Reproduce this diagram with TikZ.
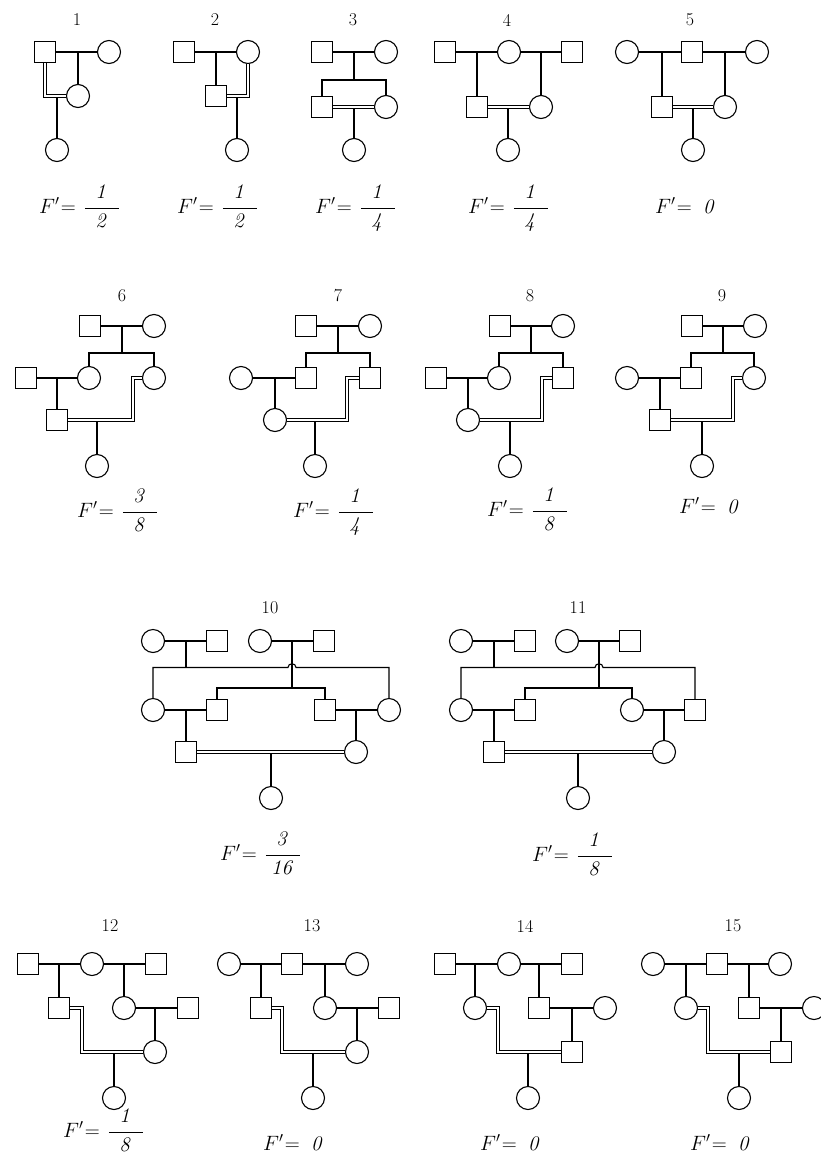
\documentclass[tikz,border=0pt]{standalone}
\tikzset{
  sq/.style={draw, rectangle, minimum size=21pt, inner sep=0pt, line width=1.1pt, fill=white},
  ci/.style={draw, circle, minimum size=23pt, inner sep=0pt, line width=1.1pt, fill=white},
  ln/.style={line width=1.1pt},
  dbl/.style={line width=1.05pt, double, double distance=1.6pt},
  num/.style={inner sep=0pt, font=\fontsize{18}{21}\selectfont},
  fm/.style={anchor=base west, inner sep=0pt, font=\fontsize{20}{24}\selectfont},
}
\newcommand\Fq[2]{$F'\mkern-4mu=\mkern2mu{\displaystyle\frac{\hbox to 1.7em{\hss$\mathit{#1}$\hss}}{\mathit{#2}}}$}
\newcommand\Fz{$F'\mkern-4mu=\;\mathit{0}$}
\begin{document}
\begin{tikzpicture}[x=1pt,y=-1pt]
\useasboundingbox (0,0) rectangle (820,1157);
% ---------- labels ----------
\node[num] (l1) at (77,20) {1};
\node[num] (l2) at (215,20) {2};
\node[num] (l3) at (353,20) {3};
\node[num] (l4) at (507,20) {4};
\node[num] (l5) at (690,20) {5};
\node[num] (l6) at (122,296) {6};
\node[num] (l7) at (338,296) {7};
\node[num] (l8) at (530,296) {8};
\node[num] (l9) at (722,296) {9};
\node[num] (l10) at (270,608) {10};
\node[num] (l11) at (578,608) {11};
\node[num] (l12) at (110,926) {12};
\node[num] (l13) at (312,926) {13};
\node[num] (l14) at (525,926) {14};
\node[num] (l15) at (733,926) {15};
% ---------- formulas ----------
\node[fm] (f1) at (39,213) {\Fq{1}{2}};
\node[fm] (f2) at (177,213) {\Fq{1}{2}};
\node[fm] (f3) at (315,213) {\Fq{1}{4}};
\node[fm] (f4) at (468,213) {\Fq{1}{4}};
\node[fm] (f5) at (655,213) {\Fz};
\node[fm] (f6) at (77,517) {\Fq{3}{8}};
\node[fm] (f7) at (293,517) {\Fq{1}{4}};
\node[fm] (f8) at (487,516) {\Fq{1}{8}};
\node[fm] (f9) at (679,513) {\Fz};
\node[fm] (f10) at (220,860) {\Fq{3}{16}};
\node[fm] (f11) at (532,861) {\Fq{1}{8}};
\node[fm] (f12) at (63,1137) {\Fq{1}{8}};
\node[fm] (f13) at (263,1150) {\Fz};
\node[fm] (f14) at (480,1150) {\Fz};
\node[fm] (f15) at (690,1150) {\Fz};
% ---------- 1 ----------
\node[sq] (p1a) at (45,52) {};
\node[ci] (p1b) at (109,52) {};
\node[ci] (p1c) at (78,96) {};
\node[ci] (p1d) at (57,150) {};
\draw[ln] (p1a) -- (p1b);
\draw[ln] (p1c) -- (p1c |- p1a);
\draw[ln] (p1d) -- (p1d |- p1c);
\draw[dbl] (p1a) |- (p1c);
% ---------- 2 ----------
\node[sq] (p2a) at (184,52) {};
\node[ci] (p2b) at (248,52) {};
\node[sq] (p2c) at (216,96) {};
\node[ci] (p2d) at (237,150) {};
\draw[ln] (p2a) -- (p2b);
\draw[ln] (p2c) -- (p2c |- p2a);
\draw[ln] (p2d) -- (p2d |- p2c);
\draw[dbl] (p2b) |- (p2c);
% ---------- 3 ----------
\node[sq] (p3a) at (322,52) {};
\node[ci] (p3b) at (386,52) {};
\node[sq] (p3c) at (322,107) {};
\node[ci] (p3d) at (386,107) {};
\node[ci] (p3e) at (354,150) {};
\coordinate (p3s) at (354,80);
\draw[ln] (p3a) -- (p3b);
\draw[ln] (p3s) -- (p3s |- p3a);
\draw[ln] (p3c) |- (p3s) -| (p3d);
\draw[ln] (p3e) -- (p3e |- p3c);
\draw[dbl] (p3c) -- (p3d);
% ---------- 4 ----------
\node[sq] (p4a) at (445,52) {};
\node[ci] (p4b) at (509,52) {};
\node[sq] (p4c) at (572,52) {};
\node[sq] (p4d) at (477,107) {};
\node[ci] (p4e) at (541,107) {};
\node[ci] (p4f) at (508,150) {};
\draw[ln] (p4a) -- (p4b);
\draw[ln] (p4b) -- (p4c);
\draw[ln] (p4d) -- (p4d |- p4a);
\draw[ln] (p4e) -- (p4e |- p4a);
\draw[ln] (p4f) -- (p4f |- p4d);
\draw[dbl] (p4d) -- (p4e);
% ---------- 5 ----------
\node[ci] (p5a) at (627,52) {};
\node[sq] (p5b) at (692,52) {};
\node[ci] (p5c) at (757,52) {};
\node[sq] (p5d) at (662,107) {};
\node[ci] (p5e) at (725,107) {};
\node[ci] (p5f) at (693,150) {};
\draw[ln] (p5a) -- (p5b);
\draw[ln] (p5b) -- (p5c);
\draw[ln] (p5d) -- (p5d |- p5a);
\draw[ln] (p5e) -- (p5e |- p5a);
\draw[ln] (p5f) -- (p5f |- p5d);
\draw[dbl] (p5d) -- (p5e);
% ---------- 6 ----------
\node[sq] (p6a) at (90,326) {};
\node[ci] (p6b) at (154,326) {};
\node[ci] (p6c) at (89,378) {};
\node[ci] (p6d) at (154,378) {};
\node[sq] (p6e) at (26,378) {};
\node[sq] (p6f) at (57,420) {};
\node[ci] (p6g) at (97,466) {};
\coordinate (p6s) at (122,353);
\coordinate (p6k) at (133,420);
\draw[ln] (p6a) -- (p6b);
\draw[ln] (p6s) -- (p6s |- p6a);
\draw[ln] (p6c) |- (p6s) -| (p6d);
\draw[ln] (p6e) -- (p6c);
\draw[ln] (p6f) -- (p6f |- p6e);
\draw[ln] (p6g) -- (p6g |- p6f);
\draw[dbl] (p6d) -| (p6k) -- (p6f);
% ---------- 7 ----------
\node[sq] (p7a) at (306,326) {};
\node[ci] (p7b) at (370,326) {};
\node[sq] (p7c) at (306,378) {};
\node[sq] (p7d) at (370,378) {};
\node[ci] (p7e) at (241,378) {};
\node[ci] (p7f) at (275,420) {};
\node[ci] (p7g) at (315,466) {};
\coordinate (p7s) at (338,353);
\coordinate (p7k) at (347,420);
\draw[ln] (p7a) -- (p7b);
\draw[ln] (p7s) -- (p7s |- p7a);
\draw[ln] (p7c) |- (p7s) -| (p7d);
\draw[ln] (p7e) -- (p7c);
\draw[ln] (p7f) -- (p7f |- p7e);
\draw[ln] (p7g) -- (p7g |- p7f);
\draw[dbl] (p7d) -| (p7k) -- (p7f);
% ---------- 8 ----------
\node[sq] (p8a) at (500,326) {};
\node[ci] (p8b) at (563,326) {};
\node[ci] (p8c) at (499,378) {};
\node[sq] (p8d) at (563,378) {};
\node[sq] (p8e) at (436,378) {};
\node[ci] (p8f) at (468,420) {};
\node[ci] (p8g) at (510,466) {};
\coordinate (p8s) at (531,353);
\coordinate (p8k) at (542,420);
\draw[ln] (p8a) -- (p8b);
\draw[ln] (p8s) -- (p8s |- p8a);
\draw[ln] (p8c) |- (p8s) -| (p8d);
\draw[ln] (p8e) -- (p8c);
\draw[ln] (p8f) -- (p8f |- p8e);
\draw[ln] (p8g) -- (p8g |- p8f);
\draw[dbl] (p8d) -| (p8k) -- (p8f);
% ---------- 9 ----------
\node[sq] (p9a) at (692,326) {};
\node[ci] (p9b) at (755,326) {};
\node[sq] (p9c) at (691,378) {};
\node[ci] (p9d) at (754,378) {};
\node[ci] (p9e) at (627,378) {};
\node[sq] (p9f) at (660,420) {};
\node[ci] (p9g) at (702,466) {};
\coordinate (p9s) at (723,353);
\coordinate (p9k) at (733,420);
\draw[ln] (p9a) -- (p9b);
\draw[ln] (p9s) -- (p9s |- p9a);
\draw[ln] (p9c) |- (p9s) -| (p9d);
\draw[ln] (p9e) -- (p9c);
\draw[ln] (p9f) -- (p9f |- p9e);
\draw[ln] (p9g) -- (p9g |- p9f);
\draw[dbl] (p9d) -| (p9k) -- (p9f);
% ---------- 10 ----------
\node[ci] (q0a) at (153,641) {};
\node[sq] (q0b) at (217,641) {};
\node[ci] (q0c) at (260,641) {};
\node[sq] (q0d) at (324,641) {};
\node[ci] (q0e) at (153,710) {};
\node[sq] (q0f) at (217,710) {};
\node[sq] (q0g) at (325,710) {};
\node[ci] (q0h) at (389,710) {};
\node[sq] (q0i) at (186,752) {};
\node[ci] (q0j) at (356,752) {};
\node[ci] (q0k) at (271,798) {};
\coordinate (q0m) at (186,667.5);
\coordinate (q0u) at (288,667.5);
\coordinate (q0v) at (296,667.5);
\coordinate (q0n) at (292,688);
\draw[ln] (q0a) -- (q0b);
\draw[ln] (q0c) -- (q0d);
\draw[ln] (q0m) -- (q0m |- q0a);
\draw[ln] (q0n) -- (q0n |- q0c);
\draw[ln] (q0e) |- (q0u) .. controls (288,662.5) and (296,662.5) .. (q0v) -| (q0h);
\draw[ln] (q0f) |- (q0n) -| (q0g);
\draw[ln] (q0e) -- (q0f);
\draw[ln] (q0g) -- (q0h);
\draw[ln] (q0i) -- (q0i |- q0e);
\draw[ln] (q0j) -- (q0j |- q0g);
\draw[ln] (q0k) -- (q0k |- q0i);
\draw[dbl] (q0i) -- (q0j);
% ---------- 11 ----------
\node[ci] (q1a) at (461,641) {};
\node[sq] (q1b) at (525,641) {};
\node[ci] (q1c) at (567,641) {};
\node[sq] (q1d) at (630,641) {};
\node[ci] (q1e) at (461,710) {};
\node[sq] (q1f) at (525,710) {};
\node[ci] (q1g) at (632,710) {};
\node[sq] (q1h) at (695,710) {};
\node[sq] (q1i) at (494,752) {};
\node[ci] (q1j) at (664,752) {};
\node[ci] (q1k) at (578,798) {};
\coordinate (q1m) at (494,667.5);
\coordinate (q1u) at (595,667.5);
\coordinate (q1v) at (603,667.5);
\coordinate (q1n) at (599,688);
\draw[ln] (q1a) -- (q1b);
\draw[ln] (q1c) -- (q1d);
\draw[ln] (q1m) -- (q1m |- q1a);
\draw[ln] (q1n) -- (q1n |- q1c);
\draw[ln] (q1e) |- (q1u) .. controls (595,662.5) and (603,662.5) .. (q1v) -| (q1h);
\draw[ln] (q1f) |- (q1n) -| (q1g);
\draw[ln] (q1e) -- (q1f);
\draw[ln] (q1g) -- (q1h);
\draw[ln] (q1i) -- (q1i |- q1e);
\draw[ln] (q1j) -- (q1j |- q1g);
\draw[ln] (q1k) -- (q1k |- q1i);
\draw[dbl] (q1i) -- (q1j);
% ---------- 12 ----------
\node[sq] (r2a) at (28,964) {};
\node[ci] (r2b) at (92,964) {};
\node[sq] (r2c) at (156,964) {};
\node[sq] (r2d) at (59,1008) {};
\node[ci] (r2e) at (124,1008) {};
\node[sq] (r2f) at (188,1008) {};
\node[ci] (r2g) at (155,1052) {};
\node[ci] (r2h) at (114,1098) {};
\coordinate (r2k) at (82,1052);
\draw[ln] (r2a) -- (r2b);
\draw[ln] (r2b) -- (r2c);
\draw[ln] (r2d) -- (r2d |- r2a);
\draw[ln] (r2e) -- (r2e |- r2a);
\draw[ln] (r2e) -- (r2f);
\draw[ln] (r2g) -- (r2g |- r2e);
\draw[ln] (r2h) -- (r2h |- r2g);
\draw[dbl] (r2d) -| (r2k) -- (r2g);
% ---------- 13 ----------
\node[ci] (r3a) at (229,964) {};
\node[sq] (r3b) at (292,964) {};
\node[ci] (r3c) at (357,964) {};
\node[sq] (r3d) at (261,1008) {};
\node[ci] (r3e) at (325,1008) {};
\node[sq] (r3f) at (389,1008) {};
\node[ci] (r3g) at (357,1052) {};
\node[ci] (r3h) at (313,1098) {};
\coordinate (r3k) at (282,1052);
\draw[ln] (r3a) -- (r3b);
\draw[ln] (r3b) -- (r3c);
\draw[ln] (r3d) -- (r3d |- r3a);
\draw[ln] (r3e) -- (r3e |- r3a);
\draw[ln] (r3e) -- (r3f);
\draw[ln] (r3g) -- (r3g |- r3e);
\draw[ln] (r3h) -- (r3h |- r3g);
\draw[dbl] (r3d) -| (r3k) -- (r3g);
% ---------- 14 ----------
\node[sq] (r4a) at (445,964) {};
\node[ci] (r4b) at (509,964) {};
\node[sq] (r4c) at (572,964) {};
\node[ci] (r4d) at (475,1008) {};
\node[sq] (r4e) at (539,1008) {};
\node[ci] (r4f) at (605,1008) {};
\node[sq] (r4g) at (572,1052) {};
\node[ci] (r4h) at (528,1098) {};
\coordinate (r4k) at (498,1052);
\draw[ln] (r4a) -- (r4b);
\draw[ln] (r4b) -- (r4c);
\draw[ln] (r4d) -- (r4d |- r4a);
\draw[ln] (r4e) -- (r4e |- r4a);
\draw[ln] (r4e) -- (r4f);
\draw[ln] (r4g) -- (r4g |- r4e);
\draw[ln] (r4h) -- (r4h |- r4g);
\draw[dbl] (r4d) -| (r4k) -- (r4g);
% ---------- 15 ----------
\node[ci] (r5a) at (653,964) {};
\node[sq] (r5b) at (717,964) {};
\node[ci] (r5c) at (780,964) {};
\node[ci] (r5d) at (686,1008) {};
\node[sq] (r5e) at (749,1008) {};
\node[ci] (r5f) at (814,1008) {};
\node[sq] (r5g) at (781,1052) {};
\node[ci] (r5h) at (739,1098) {};
\coordinate (r5k) at (708,1052);
\draw[ln] (r5a) -- (r5b);
\draw[ln] (r5b) -- (r5c);
\draw[ln] (r5d) -- (r5d |- r5a);
\draw[ln] (r5e) -- (r5e |- r5a);
\draw[ln] (r5e) -- (r5f);
\draw[ln] (r5g) -- (r5g |- r5e);
\draw[ln] (r5h) -- (r5h |- r5g);
\draw[dbl] (r5d) -| (r5k) -- (r5g);
\end{tikzpicture}
\end{document}
